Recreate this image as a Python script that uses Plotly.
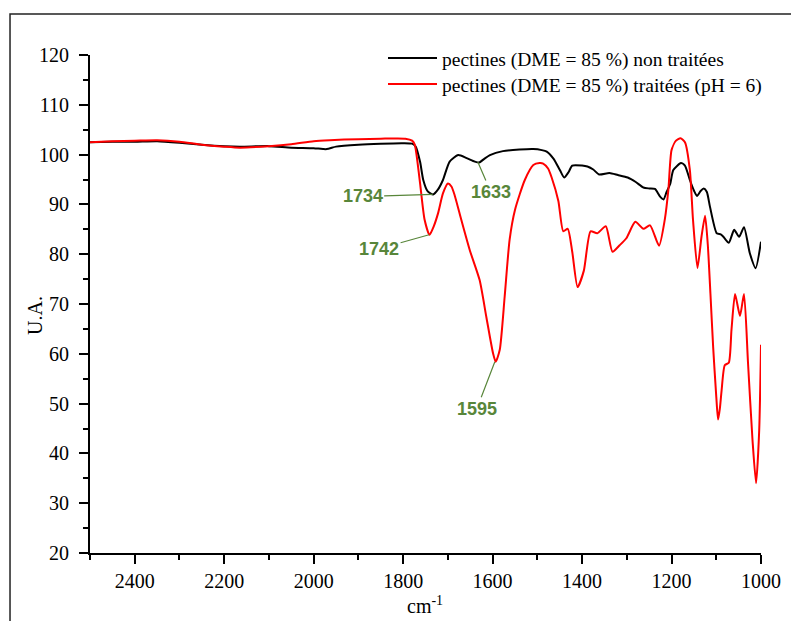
import plotly.graph_objects as go

# spectre 1 : pectines non traitees (noir)
wn_nt = [2500, 2450, 2400, 2350, 2300, 2250, 2200, 2165, 2100, 2050, 2000, 1971, 1950, 1900,
         1850, 1800, 1780, 1772, 1762, 1755, 1745, 1733, 1722, 1711, 1696, 1677, 1658, 1640,
         1630, 1618, 1606, 1577, 1540, 1509, 1490, 1479, 1464, 1449, 1440, 1430, 1422, 1400,
         1388, 1375, 1362, 1339, 1320, 1298, 1280, 1263, 1250, 1237, 1226, 1218, 1211, 1203,
         1196, 1179, 1170, 1159, 1150, 1143, 1135, 1128, 1121, 1114, 1099, 1090, 1084, 1072,
         1060, 1049, 1038, 1025, 1012, 1000]
ua_nt = [102.5, 102.6, 102.6, 102.7, 102.4, 102.0, 101.7, 101.6, 101.7, 101.4, 101.3, 101.1, 101.6, 102.0,
         102.2, 102.3, 102.2, 101.6, 98.5, 94.9, 92.6, 92.0, 93.0, 94.9, 98.6, 99.9, 99.3, 98.6,
         98.4, 99.2, 99.9, 100.7, 101.0, 101.1, 100.9, 100.6, 99.2, 96.8, 95.4, 96.5, 97.8, 97.8,
         97.6, 97.0, 96.0, 96.3, 95.9, 95.4, 94.5, 93.4, 93.2, 93.1, 91.6, 91.0, 92.5, 94.1,
         96.9, 98.3, 97.8, 94.9, 92.8, 91.7, 92.7, 93.2, 92.5, 89.5, 84.2, 84.0, 83.5, 82.3,
         84.9, 83.5, 85.4, 80.2, 77.2, 82.5]

# spectre 2 : pectines traitees pH 6 (rouge)
wn_t = [2500, 2450, 2400, 2350, 2300, 2250, 2200, 2165, 2100, 2050, 2000, 1964, 1900, 1850,
        1795, 1780, 1774, 1763, 1752, 1741, 1732, 1722, 1711, 1700, 1692, 1685, 1670, 1651,
        1629, 1614, 1599, 1593, 1584, 1573, 1562, 1550, 1528, 1509, 1495, 1487, 1476, 1468,
        1453, 1442, 1432, 1422, 1410, 1396, 1381, 1366, 1347, 1332, 1316, 1301, 1281, 1263,
        1248, 1228, 1215, 1207, 1200, 1190, 1180, 1170, 1159, 1152, 1142, 1133, 1125, 1119,
        1113, 1107, 1100, 1096, 1092, 1088, 1081, 1072, 1066, 1058, 1047, 1038, 1029, 1019,
        1011, 1004, 1000]
ua_t = [102.5, 102.7, 102.8, 102.9, 102.6, 102.0, 101.6, 101.4, 101.7, 102.1, 102.7, 102.9, 103.1, 103.2,
        103.2, 102.8, 102.0, 94.9, 86.9, 83.9, 85.5, 88.2, 92.2, 94.2, 93.6, 91.9, 86.9, 80.8,
        74.8, 67.4, 60.1, 58.4, 60.8, 71.5, 82.9, 88.9, 94.9, 97.9, 98.3, 98.2, 97.2, 95.4,
        90.7, 84.6, 85.1, 80.5, 73.4, 76.7, 84.6, 84.2, 85.6, 80.5, 81.8, 83.2, 86.5, 85.1,
        85.8, 81.7, 87.0, 93.0, 100.9, 102.8, 103.3, 102.5, 96.9, 86.9, 77.2, 83.5, 87.7, 82.0,
        72.0, 61.4, 51.4, 46.8, 49.0, 52.7, 57.7, 58.2, 64.8, 72.0, 67.6, 72.0, 58.1, 42.7,
        34.0, 44.7, 61.8]

# pics annotes: (nombre d'onde, valeur, decalage texte x, y)
pics = [(1734, 92.0, -70, 2), (1742, 83.9, -50, 14), (1633, 98.5, 13, 30), (1595, 58.4, -18, 47)]

legend_names = ["pectines (DME = 85 %) non traitées", "pectines (DME = 85 %) traitées (pH = 6)"]

fig = go.Figure()
fig.add_trace(go.Scatter(x=wn_nt, y=ua_nt, mode='lines', name=legend_names[0],
                         line=dict(color='black', width=2, shape='spline', smoothing=0.6)))
fig.add_trace(go.Scatter(x=wn_t, y=ua_t, mode='lines', name=legend_names[1],
                         line=dict(color='#ff0000', width=2, shape='spline', smoothing=0.6)))

green = 'rgb(88,134,58)'
for x, y, ax, ay in pics:
    fig.add_annotation(x=x, y=y, text=str(x), showarrow=True, arrowhead=0, arrowwidth=1.2,
                       arrowcolor=green, ax=ax, ay=ay, standoff=0,
                       font=dict(family='Liberation Sans', size=18, color=green, weight='bold'))

# legende manuelle
for i, (name, col) in enumerate(zip(legend_names, ['black', '#ff0000'])):
    yp = 1.0 - (3 + 26 * i) / 498
    fig.add_shape(type='line', xref='paper', yref='paper', x0=(388 - 90) / 671, x1=(437 - 90) / 671,
                  y0=yp, y1=yp, line=dict(color=col, width=2))
    fig.add_annotation(xref='paper', yref='paper', x=(440 - 90) / 671, y=yp - 1.5 / 498,
                       text=name, showarrow=False, xanchor='left', yanchor='middle',
                       font=dict(family='Liberation Serif', size=19.5, color='black'))

# titres des axes
fig.add_annotation(xref='paper', yref='paper', x=0.499, y=-0.105, text='cm<sup>-1</sup>',
                   showarrow=False, xanchor='center', yanchor='middle',
                   font=dict(family='Liberation Serif', size=20, color='black'))
fig.add_annotation(xref='paper', yref='paper', x=-0.082, y=0.478, text='U.A.', textangle=-90,
                   showarrow=False, xanchor='center', yanchor='middle',
                   font=dict(family='Liberation Serif', size=20, color='black'))

# cadre exterieur
fig.add_shape(type='rect', xref='paper', yref='paper', x0=-0.1192, x1=1.0537, y0=-0.16, y1=1.0823,
              line=dict(color='#222222', width=1.5))

fig.update_xaxes(range=[2500, 1000], showgrid=False, zeroline=False, showline=True,
                 linecolor='black', linewidth=2, ticks='outside', ticklen=9, tickwidth=2,
                 tickcolor='black', dtick=200, tick0=1000, ticklabelstandoff=0,
                 tickfont=dict(family='Liberation Serif', size=20, color='black'),
                 minor=dict(ticks='outside', ticklen=5, tickwidth=2, tickcolor='black', dtick=100))
fig.update_yaxes(range=[20, 120], showgrid=False, zeroline=False, showline=True,
                 linecolor='black', linewidth=2, ticks='outside', ticklen=9, tickwidth=2,
                 tickcolor='black', dtick=10, ticklabelstandoff=6,
                 tickfont=dict(family='Liberation Serif', size=20, color='black'),
                 minor=dict(ticks='outside', ticklen=5, tickwidth=2, tickcolor='black', dtick=5))

fig.update_layout(width=791, height=613, showlegend=False,
                  margin=dict(l=82, r=38, t=47, b=68),
                  paper_bgcolor='white', plot_bgcolor='white')

fig.write_html("out.html")
